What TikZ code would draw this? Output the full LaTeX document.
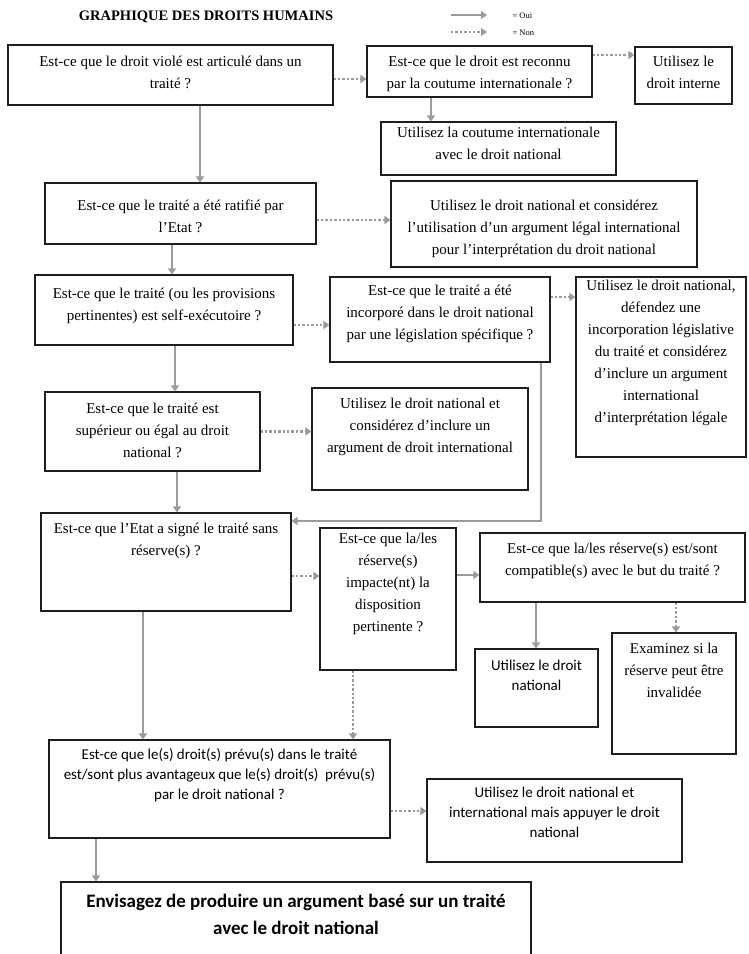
\documentclass[tikz,border=0pt]{standalone}
\usepackage{fontspec}
\setmainfont{Liberation Serif}
\newfontfamily\calibri{Carlito}
\usetikzlibrary{arrows.meta}

\definecolor{flechegris}{RGB}{155,155,155}
\definecolor{bord}{RGB}{30,30,30}

% largeur, hauteur, marge du haut, texte
\newcommand{\boite}[4]{\parbox[c][#2pt][t]{#1pt}{\centering\vspace*{#3pt}#4}}

\begin{document}
\begin{tikzpicture}[x=1pt,y=-1pt,
	q/.style={draw=bord,line width=1.1pt,inner sep=0pt,font=\fontsize{15}{22}\selectfont},
	qs/.style={q,font=\calibri\fontsize{15}{20}\selectfont},
	oui/.style={draw=flechegris,line width=2.8pt,-{Triangle[length=6pt,width=8pt]}},
	non/.style={oui,dash pattern=on 2.4pt off 2pt}]
				
				\useasboundingbox (0,0) rectangle (748,954);
				
				\node[font=\bfseries\fontsize{14.5}{16}\selectfont] (titre) at (206,17) {GRAPHIQUE DES DROITS HUMAINS};
				
				% legende
				\coordinate (o1) at (451,15);
				\coordinate (o2) at (487,15);
				\coordinate (n1) at (451,32);
				\coordinate (n2) at (487,32);
				\node[font=\fontsize{8.5}{10}\selectfont,anchor=west] (oui) at (509,16) {= Oui};
				\node[font=\fontsize{8.5}{10}\selectfont,anchor=west] (non) at (509,33) {= Non};
				\draw[oui] (o1) -- (o2);
				\draw[non] (n1) -- (n2);
				
				\node[q] (A) at (170.5,75) {\boite{325}{60}{11}{Est-ce que le droit violé est articulé dans un\\traité ?}};
				\node[q] (B) at (479.5,71.5) {\boite{225}{51}{10}{Est-ce que le droit est reconnu\\par la coutume internationale ?}};
				\node[q] (C) at (683.5,75.5) {\boite{97}{57}{9}{Utilisez le\\droit interne}};
				\node[q] (D) at (498.5,148.5) {\boite{235}{53}{5}{Utilisez la coutume internationale\\avec le droit national}};
				
				\draw[non] ([yshift=-4pt]A.east) -- ([yshift=-4pt]A.east -| B.west);
				\draw[non] ([yshift=16.5pt]B.east) -- ([yshift=16.5pt]B.east -| C.west);
				\draw[oui] ([xshift=-48.5pt]B.south) -- ([xshift=-48.5pt]B.south |- D.north);
				
				\node[q] (E) at (180.5,213.5) {\boite{271}{61}{17}{Est-ce que le traité a été ratifié par\\l’Etat ?}};
				\node[q] (F) at (544,224) {\boite{306}{86}{19}{Utilisez le droit national et considérez\\l’utilisation d’un argument légal international\\pour l’interprétation du droit national}};
				
				\draw[oui] ([xshift=29.5pt]A.south) -- ([xshift=29.5pt]A.south |- E.north);
				\draw[non] ([yshift=-6.5pt]E.east) -- ([yshift=-6.5pt]E.east -| F.west);
				
				\node[q] (G) at (164,310) {\boite{258}{70}{13}{Est-ce que le traité (ou les provisions\\pertinentes) est self-exécutoire ?}};
				\node[q] (H) at (440,319.5) {\boite{220}{85}{8}{Est-ce que le traité a été\\incorporé dans le droit national\\par une législation spécifique ?}};
				\node[q] (I) at (661,367) {\boite{170}{180}{3}{Utilisez le droit national,\\défendez une\\incorporation législative\\du traité et considérez\\d’inclure un argument\\international\\d’interprétation légale}};
				
				\draw[oui] ([xshift=-8.5pt]E.south) -- ([xshift=-8.5pt]E.south |- G.north);
				\draw[non] ([yshift=-15pt]G.east) -- ([yshift=-15pt]G.east -| H.west);
				\draw[non] ([yshift=22.5pt]H.east) -- ([yshift=22.5pt]H.east -| I.west);
				
				\node[q] (J) at (152.5,431.5) {\boite{215}{79}{11}{Est-ce que le traité est\\supérieur ou égal au droit\\national ?}};
				\node[q] (K) at (420,439) {\boite{216}{102}{10}{Utilisez le droit national et\\considérez d’inclure un\\argument de droit international}};
				
				\draw[oui] ([xshift=11pt]G.south) -- ([xshift=11pt]G.south |- J.north);
				\draw[non] (J.east) -- (J.east -| K.west);
				
				\node[q] (L) at (166,562) {\boite{250}{98}{10}{Est-ce que l’Etat a signé le traité sans\\réserve(s) ?}};
				\node[q] (M) at (388,599) {\boite{136}{142}{5}{Est-ce que la/les\\réserve(s)\\impacte(nt) la\\disposition\\pertinente ?}};
				\node[q] (P) at (612.5,567.5) {\boite{265}{69}{10}{Est-ce que la/les réserve(s) est/sont\\compatible(s) avec le but du traité ?}};
				\node[qs] (Q) at (536.5,688) {\boite{123}{78}{11}{Utilisez le droit\\national}};
				\node[q] (R) at (674,693.5) {\boite{124}{121}{10}{Examinez si la\\réserve peut être\\invalidée}};
				
				\draw[oui] ([xshift=24.5pt]J.south) -- ([xshift=24.5pt]J.south |- L.north);
				\draw[oui] ([xshift=101pt]H.south) |- ([yshift=41pt]L.east);
				\draw[non] ([yshift=-14pt]L.east) -- ([yshift=-14pt]L.east -| M.west);
				\draw[oui] ([yshift=24pt]M.east) -- ([yshift=24pt]M.east -| P.west);
				\draw[oui] ([xshift=-76.5pt]P.south) -- ([xshift=-76.5pt]P.south |- Q.north);
				\draw[non] ([xshift=63.5pt]P.south) -- ([xshift=63.5pt]P.south |- R.north);
				
				\node[qs] (N) at (219.5,789) {\boite{341}{98}{9}{Est-ce que le(s) droit(s) prévu(s) dans le traité\\est/sont plus avantageux que le(s) droit(s)~~prévu(s)\\par le droit national ?}};
				\node[qs] (O) at (554.5,820.5) {\boite{255}{83}{8}{Utilisez le droit national et\\international mais appuyer le droit\\national}};
				
				\draw[oui] ([xshift=-23pt]L.south) -- ([xshift=-23pt]L.south |- N.north);
				\draw[non] ([xshift=-35pt]M.south) -- ([xshift=-35pt]M.south |- N.north);
				\draw[non] ([yshift=-22pt]N.east) -- ([yshift=-22pt]N.east -| O.west);
				
				\node[q,font=\calibri\bfseries\fontsize{19}{27}\selectfont] (S) at (296,922) {\boite{470}{80}{12}{Envisagez de produire un argument basé sur un traité\\avec le droit national}};
				
				\draw[oui] ([xshift=-123.5pt]N.south) -- ([xshift=-123.5pt]N.south |- S.north);
				
			\end{tikzpicture}
\end{document}
